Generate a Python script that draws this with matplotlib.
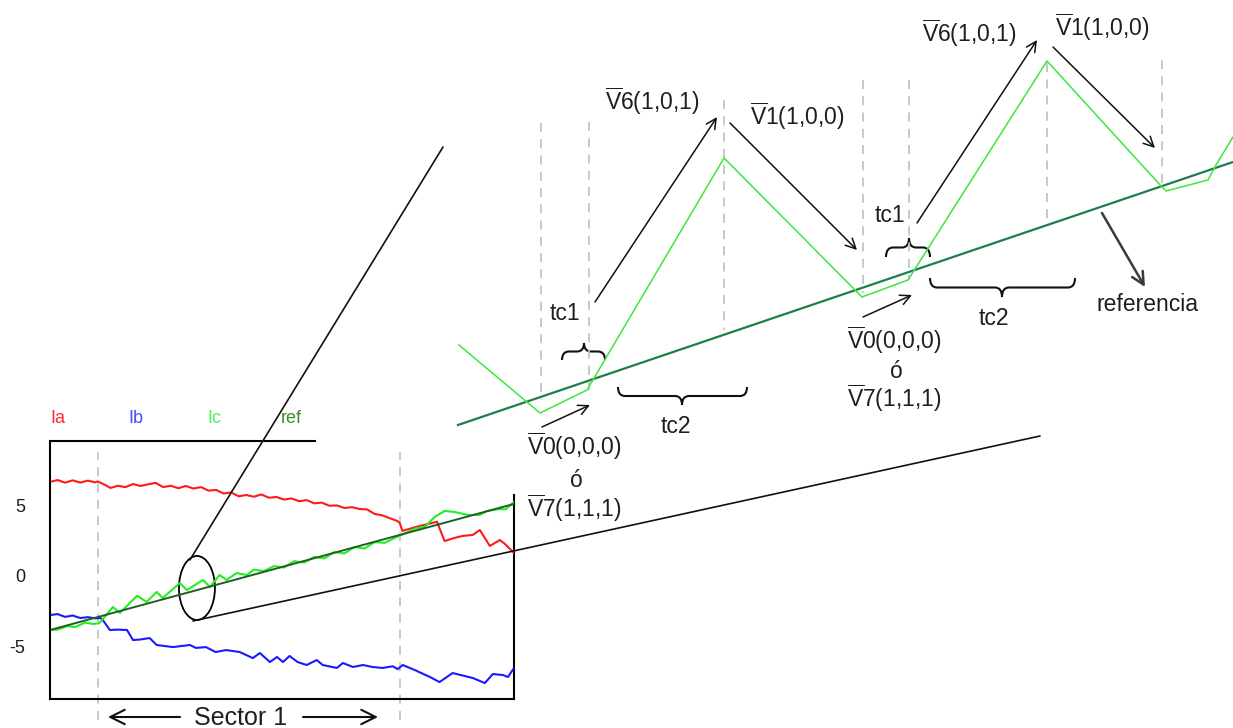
import numpy as np
import matplotlib
matplotlib.use("Agg")
import matplotlib.pyplot as plt
from matplotlib.path import Path
from matplotlib.patches import PathPatch, Ellipse, ConnectionPatch

plt.rcParams['font.family'] = ['Liberation Sans', 'DejaVu Sans']
plt.rcParams['mathtext.fontset'] = 'custom'
plt.rcParams['mathtext.rm'] = 'Liberation Sans'
plt.rcParams['mathtext.it'] = 'Liberation Sans:italic'

# ---- currents over sector 1 (electrical degrees, amps) ----
ia_deg = [-9.5, -8, -6.5, -5, -3.5, -2, -0.5, 0, 1.5, 2.5, 4, 5.5, 7, 8.5, 10, 11.5, 13, 14.5,
          16, 17.5, 19, 20.5, 22, 23.5, 25, 26.5, 28, 29.5, 31, 32.5, 34, 35.5, 37, 38.5, 40,
          41.5, 43, 44.5, 46, 47.5, 49, 50.5, 52, 53.5, 55, 56.5, 58, 59.5, 60, 60.5, 62, 64,
          66, 67.4, 68.9, 70.9, 72.5, 74.5, 75.9, 77.9, 79.9, 80.9, 82.7]
ia_val = [6.67, 6.80, 6.62, 6.78, 6.62, 6.76, 6.64, 6.70, 6.45, 6.24, 6.40, 6.30, 6.52, 6.38,
          6.50, 6.60, 6.30, 6.40, 6.22, 6.38, 6.20, 6.30, 6.05, 6.10, 5.85, 5.92, 5.65, 5.74,
          5.62, 5.78, 5.55, 5.60, 5.42, 5.50, 5.30, 5.38, 5.15, 5.20, 4.98, 5.00, 4.82, 4.88,
          4.75, 4.72, 4.40, 4.30, 4.10, 3.90, 3.76, 3.20, 3.35, 3.55, 3.72, 3.85, 2.48, 2.70,
          2.84, 2.91, 3.26, 2.13, 2.55, 2.27, 1.63]

ib_deg = [-9.5, -8, -6.5, -5, -3.5, -2, -0.5, 0.5, 1, 2.4, 4, 5.8, 7, 8.5, 10.3, 11.7, 14.9,
          18.3, 19.5, 21.5, 23.4, 25.5, 28.2, 30.8, 32.2, 34.2, 35.6, 36.8, 38.1, 39.7, 41.5,
          43.5, 44.7, 47.5, 48.7, 50.7, 52.7, 54.6, 56.6, 58.6, 59.6, 60.6, 63.0, 66.0, 67.9,
          70.5, 74.5, 76.9, 78.5, 80.5, 81.5, 82.7]
ib_val = [-2.77, -2.70, -2.90, -2.80, -2.98, -2.92, -3.00, -2.98, -3.12, -3.83, -3.80, -3.83,
          -4.54, -4.50, -4.40, -4.89, -5.04, -4.89, -5.10, -5.04, -5.39, -5.25, -5.39, -5.82,
          -5.46, -6.10, -5.74, -6.10, -5.67, -6.10, -6.31, -5.96, -6.31, -6.52, -6.17, -6.45,
          -6.31, -6.45, -6.52, -6.40, -6.60, -6.31, -6.67, -7.16, -7.52, -6.88, -7.23, -7.59,
          -6.95, -7.02, -7.16, -6.52]

ic_deg = [-9.5, -8, -6, -4.5, -2.5, -1, 0.3, 3, 4.4, 7.8, 9.7, 11.7, 12.9, 16.3, 17.7, 20.9,
          22.3, 24.2, 25.6, 27.6, 29.6, 31, 33, 35, 37, 39, 41, 43, 45, 47, 49, 51, 53, 55, 57,
          59, 60.5, 63, 65, 67, 68.9, 70.9, 73.5, 75.9, 77.3, 79.9, 81, 82.7]
ic_val = [-3.83, -3.80, -3.55, -3.62, -3.30, -3.40, -3.35, -2.20, -2.62, -1.40, -1.84, -1.13,
          -1.56, -0.50, -1.00, -0.28, -0.78, 0.07, -0.28, 0.21, 0.07, 0.45, 0.35, 0.70, 0.60,
          1.05, 0.95, 1.35, 1.25, 1.70, 1.60, 2.05, 1.95, 2.40, 2.35, 2.70, 2.95, 3.35, 3.50,
          4.20, 4.61, 4.54, 4.33, 4.33, 4.61, 4.75, 4.72, 5.25]

ref_deg = [-9.5, 82.7]
ref_val = [-3.83, 5.11]

sector_edges = [0, 60]

# ---- magnified view of the reference tracking (canvas units) ----
zoom_ref_x = [458, 1233]
zoom_ref_y = [425, 162]
zoom_ic_x = [459, 540, 587, 724, 862, 908, 1047, 1162, 1166, 1208, 1216, 1233]
zoom_ic_y = [345, 413, 390, 158, 297, 280, 61, 187, 191, 180, 165, 137]
switch_x = [541, 589, 724, 863, 909, 1047, 1162]
switch_top = [123, 122, 100, 80, 80, 63, 60]
switch_bot = [400, 390, 330, 293, 280, 223, 188]

fig = plt.figure(figsize=(12.33, 7.28), dpi=100)
ax = fig.add_axes([0, 0, 1, 1])
ax.set_xlim(0, 1233)
ax.set_ylim(728, 0)
ax.axis('off')

txt = '#1e1e1e'
vbar = r'$\overline{\mathrm{V}}$'

# switching instants
ax.vlines(switch_x, switch_top, switch_bot, colors='#c4c4c4', linestyles=(0, (5, 4)), lw=1.3)
ax.plot(zoom_ref_x, zoom_ref_y, color='#1f7d4c', lw=1.6)
ax.plot(zoom_ic_x, zoom_ic_y, color='#3de83d', lw=1.1)


def arrow(tail, head, lw=1.1, color='#111111', ms=18):
    ax.annotate('', xy=head, xytext=tail,
                arrowprops=dict(arrowstyle='->', lw=lw, color=color, mutation_scale=ms,
                                shrinkA=0, shrinkB=0))


arrow((595, 302), (717, 117))
arrow((730, 123), (857, 250))
arrow((542, 427), (590, 405))
arrow((863, 317), (912, 295))
arrow((917, 223), (1037, 40))
arrow((1053, 47), (1155, 148))
arrow((1102, 213), (1145, 287), lw=1.8, color='#3a3a3a', ms=22)


def brace(x0, x1, y0, ytip, xtip):
    ym = (y0 + ytip) / 2
    r = 7
    verts = [(x0, y0), (x0, ym), (x0 + r, ym), (xtip - r, ym), (xtip, ym), (xtip, ytip),
             (xtip, ym), (xtip + r, ym), (x1 - r, ym), (x1, ym), (x1, y0)]
    codes = [Path.MOVETO, Path.CURVE3, Path.CURVE3, Path.LINETO, Path.CURVE3, Path.CURVE3,
             Path.CURVE3, Path.CURVE3, Path.LINETO, Path.CURVE3, Path.CURVE3]
    ax.add_patch(PathPatch(Path(verts, codes), fill=False, ec='#111111', lw=1.5))


brace(562, 605, 360, 343, 584)
brace(618, 747, 387, 405, 682)
brace(886, 930, 257, 238, 909)
brace(930, 1075, 278, 297, 1002)

fs = 16.5
ax.text(605, 110, vbar + '6(1,0,1)', fontsize=fs, color=txt, va='baseline')
ax.text(750, 125, vbar + '1(1,0,0)', fontsize=fs, color=txt, va='baseline')
ax.text(922, 42, vbar + '6(1,0,1)', fontsize=fs, color=txt, va='baseline')
ax.text(1055, 36, vbar + '1(1,0,0)', fontsize=fs, color=txt, va='baseline')
ax.text(527, 455, vbar + '0(0,0,0)', fontsize=fs, color=txt, va='baseline')
ax.text(576, 487, 'ó', fontsize=fs, color=txt, va='baseline', ha='center')
ax.text(527, 517, vbar + '7(1,1,1)', fontsize=fs, color=txt, va='baseline')
ax.text(847, 349, vbar + '0(0,0,0)', fontsize=fs, color=txt, va='baseline')
ax.text(896, 378, 'ó', fontsize=fs, color=txt, va='baseline', ha='center')
ax.text(847, 407, vbar + '7(1,1,1)', fontsize=fs, color=txt, va='baseline')
ax.text(550, 320, 'tc1', fontsize=fs, color=txt, va='baseline')
ax.text(661, 433, 'tc2', fontsize=fs, color=txt, va='baseline')
ax.text(875, 222, 'tc1', fontsize=fs, color=txt, va='baseline')
ax.text(979, 325, 'tc2', fontsize=fs, color=txt, va='baseline')
ax.text(1097, 311, 'referencia', fontsize=fs, color=txt, va='baseline')

# legend of the current plot
ax.text(50, 423, 'Ia', fontsize=13, color='#ff2a2a', va='baseline')
ax.text(128, 423, 'Ib', fontsize=13, color='#4a4aff', va='baseline')
ax.text(207, 423, 'Ic', fontsize=13, color='#55ee55', va='baseline')
ax.text(281, 423, 'ref', fontsize=13, color='#3d8a2a', va='baseline')

# sector label
ax.text(241, 725, 'Sector 1', fontsize=18, color=txt, va='baseline', ha='center')
arrow((180, 717), (108, 717), lw=1.5, ms=26)
arrow((303, 717), (378, 717), lw=1.5, ms=26)

# ---- current plot ----
axi = fig.add_axes([50 / 1233, 29 / 728, 464 / 1233, 258 / 728])
axi.set_facecolor('none')
axi.set_xlim(-9.5, 82.7)
axi.set_ylim(-8.72, 9.57)
for s in ['top', 'right']:
    axi.spines[s].set_visible(False)
for s in ['left', 'bottom']:
    axi.spines[s].set_linewidth(1.5)
axi.plot([0, 0.571], [1, 1], transform=axi.transAxes, color='k', lw=1.5, clip_on=False)
axi.plot([1, 1], [0, 0.79], transform=axi.transAxes, color='k', lw=1.5, clip_on=False)
axi.set_xticks([])
axi.set_yticks([5, 0, -5])
axi.set_yticklabels(['5', '0', '-5'])
axi.tick_params(axis='y', length=0, pad=18, labelsize=13, labelcolor=txt)

axi.vlines(sector_edges, -10.2, 8.79, colors='#c4c4c4', linestyles=(0, (5, 4)), lw=1.3,
           clip_on=False)
axi.plot(ia_deg, ia_val, color='#ff1a1a', lw=1.5)
axi.plot(ib_deg, ib_val, color='#1a1aff', lw=1.5)
axi.plot(ic_deg, ic_val, color='#22ee22', lw=1.5)
axi.plot(ref_deg, ref_val, color='#1f5f25', lw=1.4)

axi.add_patch(Ellipse((19.7, -0.85), width=7.15, height=4.54, fill=False, ec='k', lw=1.3))

for a, b in [((18.3, 1.14), (443, 147)), ((18.9, -3.19), (1040, 436))]:
    fig.add_artist(ConnectionPatch(xyA=a, coordsA=axi.transData, xyB=b, coordsB=ax.transData,
                                   color='#111111', lw=1.2))

fig.savefig('out.png', dpi=100)
